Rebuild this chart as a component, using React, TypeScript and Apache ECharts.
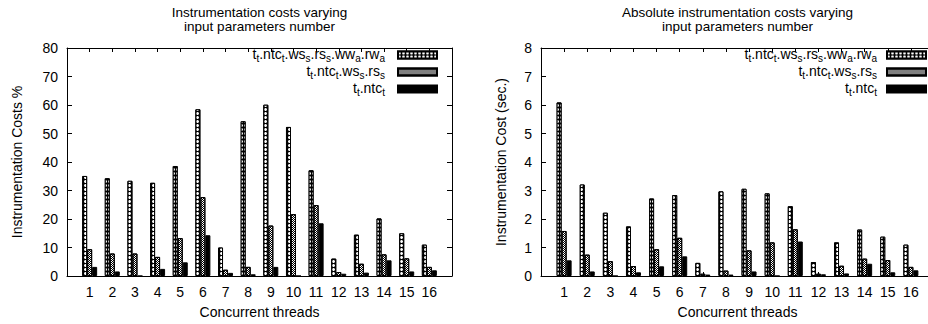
import React, { useEffect, useRef } from 'react';
import * as echarts from 'echarts';

// ---- data ----
const threads = ['1', '2', '3', '4', '5', '6', '7', '8', '9', '10', '11', '12', '13', '14', '15', '16'];
const pctFull = [35.1, 34.3, 33.4, 32.7, 38.6, 58.5, 10.0, 54.3, 60.1, 52.3, 37.1, 6.1, 14.5, 20.2, 15.0, 11.0];
const pctMid = [9.4, 7.9, 7.9, 6.7, 13.3, 27.7, 2.2, 3.2, 17.7, 21.7, 24.9, 1.4, 4.3, 7.6, 6.2, 3.2];
const pctBase = [3.2, 1.6, 0, 2.5, 4.8, 14.3, 1.1, 0.6, 3.2, 0, 18.5, 0.8, 1.2, 5.5, 1.6, 2.0];
const secFull = [6.09, 3.21, 2.22, 1.74, 2.72, 2.84, 0.46, 2.97, 3.06, 2.9, 2.45, 0.49, 1.18, 1.63, 1.38, 1.1];
const secMid = [1.58, 0.75, 0.52, 0.35, 0.94, 1.34, 0.08, 0.19, 0.9, 1.18, 1.64, 0.08, 0.36, 0.61, 0.56, 0.32];
const secBase = [0.55, 0.16, 0, 0.13, 0.34, 0.69, 0.05, 0.05, 0.16, 0, 1.21, 0.06, 0.09, 0.43, 0.13, 0.2];

const seriesNames = ['tt.ntct.wss.rss.wwa.rwa', 'tt.ntct.wss.rss', 'tt.ntct'];
const legendLabels: Record<string, string> = {
  'tt.ntct.wss.rss.wwa.rwa': '{m|t}{s|t}{m|.ntc}{s|t}{m|.ws}{s|s}{m|.rs}{s|s}{m|.ww}{s|a}{m|.rw}{e|a}',
  'tt.ntct.wss.rss': '{m|t}{s|t}{m|.ntc}{s|t}{m|.ws}{s|s}{m|.rs}{e|s}',
  'tt.ntct': '{m|t}{s|t}{m|.ntc}{e|t}',
};
const titleLines = [
  ['Instrumentation costs varying', 'input parameters number'],
  ['Absolute instrumentation costs varying', 'input parameters number'],
];
const yNames = ['Instrumentation Costs %', 'Instrumentation Cost (sec.)'];
const xName = 'Concurrent threads';

const FONT = "'Liberation Sans', Arial, Helvetica, sans-serif";
const cats = ['', ...threads, ''];

const styles = [
  {
    color: '#000',
    borderColor: '#000',
    borderWidth: 1,
    decal: { symbol: 'circle', symbolSize: 1, color: '#fff', dashArrayX: [3, 1], dashArrayY: [3, 1] },
  },
  {
    color: '#fff',
    borderColor: '#000',
    borderWidth: 1,
    decal: { symbol: 'rect', symbolSize: 1, color: '#000', dashArrayX: [[1, 1], [0, 1, 1, 0]], dashArrayY: [1, 0] },
  },
  { color: '#000', borderColor: '#000', borderWidth: 1, decal: 'none' },
];

function buildOption() {
  const grids = [
    { left: 67, top: 48, width: 385, height: 228, outerBoundsMode: 'none' },
    { left: 541, top: 48, width: 393, height: 228, outerBoundsMode: 'none' },
  ];
  const xAxis: any[] = [];
  const yAxis: any[] = [];
  const yMax = [80, 8];
  const yInt = [10, 1];
  const yGap = [43, 33];
  for (let g = 0; g < 2; g++) {
    xAxis.push({
      gridIndex: g,
      type: 'category',
      data: cats,
      boundaryGap: false,
      axisLine: { onZero: false, lineStyle: { color: '#000', width: 1 } },
      axisTick: { inside: true, length: 4, lineStyle: { color: '#000' } },
      axisLabel: { fontSize: 14, color: '#000', margin: 9, fontFamily: FONT, interval: 0 },
      splitLine: { show: false },
      name: xName,
      nameLocation: 'middle',
      nameGap: 29,
      nameTextStyle: { fontSize: 14, color: '#000', fontFamily: FONT },
    });
    xAxis.push({
      gridIndex: g,
      type: 'category',
      data: cats,
      position: 'top',
      boundaryGap: false,
      axisLine: { onZero: false, lineStyle: { color: '#000', width: 1 } },
      axisTick: { inside: true, length: 4, lineStyle: { color: '#000' } },
      axisLabel: { show: false },
      splitLine: { show: false },
    });
    yAxis.push({
      gridIndex: g,
      type: 'value',
      min: 0,
      max: yMax[g],
      interval: yInt[g],
      axisLine: { show: true, onZero: false, lineStyle: { color: '#000', width: 1 } },
      axisTick: { show: true, inside: true, length: 5, lineStyle: { color: '#000' } },
      axisLabel: { fontSize: 14, color: '#000', margin: 9, fontFamily: FONT },
      splitLine: { show: false },
      name: yNames[g],
      nameLocation: 'middle',
      nameGap: yGap[g],
      nameRotate: 90,
      nameTextStyle: { fontSize: 14, color: '#000', fontFamily: FONT },
    });
    yAxis.push({
      gridIndex: g,
      type: 'value',
      position: 'right',
      min: 0,
      max: yMax[g],
      interval: yInt[g],
      axisLine: { show: true, onZero: false, lineStyle: { color: '#000', width: 1 } },
      axisTick: { show: true, inside: true, length: 5, lineStyle: { color: '#000' } },
      axisLabel: { show: false },
      splitLine: { show: false },
    });
  }

  const dataSets = [
    [pctFull, pctMid, pctBase],
    [secFull, secMid, secBase],
  ];
  const series: any[] = [];
  for (let g = 0; g < 2; g++) {
    for (let s = 0; s < 3; s++) {
      series.push({
        type: 'bar',
        name: seriesNames[s],
        xAxisIndex: g * 2,
        yAxisIndex: g * 2,
        data: [null, ...dataSets[g][s], null],
        barWidth: 5,
        barGap: '0%',
        itemStyle: styles[s],
        emphasis: { disabled: true },
      });
    }
  }

  const mkRich = (endPad: number) => ({
    m: { fontSize: 14, color: '#000', fontFamily: FONT, verticalAlign: 'top', padding: [0, 0, 3, 0] },
    s: { fontSize: 10, color: '#000', fontFamily: FONT, verticalAlign: 'bottom' },
    e: { fontSize: 10, color: '#000', fontFamily: FONT, verticalAlign: 'bottom', padding: [0, endPad, 0, 0] },
  });
  const mkLegend = (right: number, endPad: number) => ({
    data: seriesNames,
    orient: 'vertical',
    align: 'right',
    right,
    top: 46.5,
    padding: 0,
    itemWidth: 39,
    itemHeight: 7,
    itemGap: 0,
    icon: 'rect',
    selectedMode: false,
    formatter: (n: string) => legendLabels[n] || n,
    textStyle: { fontSize: 14, color: '#000', fontFamily: FONT, rich: mkRich(endPad) },
  });

  const centers = [259.5, 737.5];
  const title: any[] = [];
  for (let g = 0; g < 2; g++) {
    for (let l = 0; l < 2; l++) {
      title.push({
        text: titleLines[g][l],
        left: centers[g],
        top: l === 0 ? 5 : 19,
        padding: 0,
        textAlign: 'center',
        textStyle: { fontSize: 13.5, fontWeight: 'normal', lineHeight: 14, color: '#000', fontFamily: FONT },
      });
    }
  }

  return {
    animation: false,
    backgroundColor: '#fff',
    textStyle: { fontFamily: FONT, color: '#000' },
    title,
    legend: [mkLegend(490, 8), mkLegend(1, 5)],
    grid: grids,
    xAxis,
    yAxis,
    series,
  };
}

export default function App() {
  const ref = useRef<HTMLDivElement>(null);
  useEffect(() => {
    if (!ref.current) return;
    const chart = echarts.init(ref.current, null, { renderer: 'svg' });
    chart.setOption(buildOption() as any);
    return () => chart.dispose();
  }, []);
  return (
    <div
      ref={ref}
      style={{ position: 'fixed', left: 0, top: 0, width: 928, height: 324, background: '#fff' }}
    />
  );
}
